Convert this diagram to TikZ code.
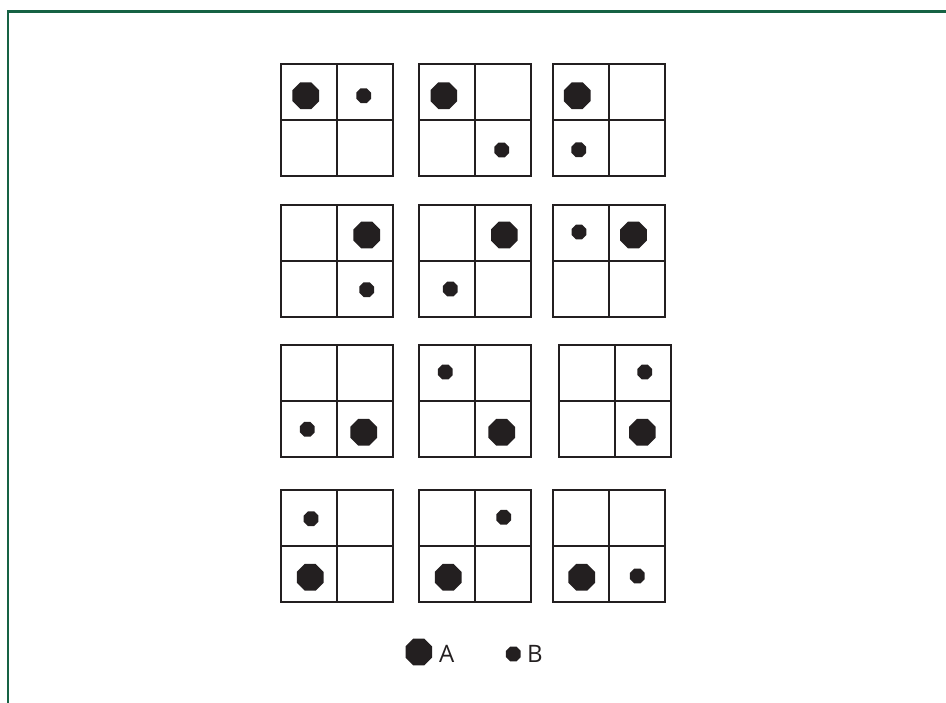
\documentclass[tikz,border=0pt]{standalone}
\usepackage{fontspec}
\setmainfont{Open Sans}
\usetikzlibrary{shapes.geometric}
\definecolor{framegreen}{RGB}{22,98,68}
\definecolor{ink}{RGB}{35,31,32}
\begin{document}
\begin{tikzpicture}[x=1pt,y=-1pt,
  gridline/.style={draw=ink, line width=1.9pt},
  bigdot/.style={regular polygon, regular polygon sides=8, minimum size=28.8pt, inner sep=0pt, fill=ink},
  smalldot/.style={regular polygon, regular polygon sides=8, minimum size=16pt, inner sep=0pt, fill=ink},
  legendtext/.style={font=\fontsize{24}{24}\selectfont, text=ink, inner sep=0pt, anchor=base west}]
\useasboundingbox (0,0) rectangle (946,703);
% frame
\draw[framegreen, line width=2.5pt] (8,703) -- (8,11.5) -- (946,11.5);
% grids
\foreach \gx/\gy in {281/64.3, 419/64.3, 552.7/64.3,
                     281/205, 419/205, 552.7/205,
                     281/345, 419/345, 559.3/345,
                     281/490, 419/490, 552.7/490} {
  \draw[gridline] (\gx,\gy) rectangle ++(112,112);
  \draw[gridline] (\gx+56,\gy) -- ++(0,112);
  \draw[gridline] (\gx,\gy+56) -- ++(112,0);
}
% row 1
\node[bigdot]   (a1) at (305.8,95.7) {};
\node[smalldot] (b1) at (363.7,95.7) {};
\node[bigdot]   (a2) at (443.8,95.7) {};
\node[smalldot] (b2) at (501.7,150) {};
\node[bigdot]   (a3) at (577.2,95.7) {};
\node[smalldot] (b3) at (578.8,149.8) {};
% row 2
\node[bigdot]   (a4) at (366.7,235) {};
\node[smalldot] (b4) at (366.7,289.7) {};
\node[bigdot]   (a5) at (504.3,235) {};
\node[smalldot] (b5) at (450.3,289) {};
\node[bigdot]   (a6) at (633.5,235) {};
\node[smalldot] (b6) at (579,232) {};
% row 3
\node[bigdot]   (a7) at (363.7,432.3) {};
\node[smalldot] (b7) at (307.3,429.3) {};
\node[bigdot]   (a8) at (501.7,432.3) {};
\node[smalldot] (b8) at (445.3,372) {};
\node[bigdot]   (a9) at (642.3,432.3) {};
\node[smalldot] (b9) at (644.7,372) {};
% row 4
\node[bigdot]   (a10) at (310.2,577.3) {};
\node[smalldot] (b10) at (311,518.7) {};
\node[bigdot]   (a11) at (448.2,577.3) {};
\node[smalldot] (b11) at (503.7,517.3) {};
\node[bigdot]   (a12) at (581.7,577.3) {};
\node[smalldot] (b12) at (637.3,576) {};
% legend
\node[bigdot]   (la) at (418.8,652) {};
\node[legendtext] (lta) at (439,662.7) {A};
\node[smalldot] (lb) at (513.3,654) {};
\node[legendtext] (ltb) at (527,662.7) {B};
\end{tikzpicture}
\end{document}
